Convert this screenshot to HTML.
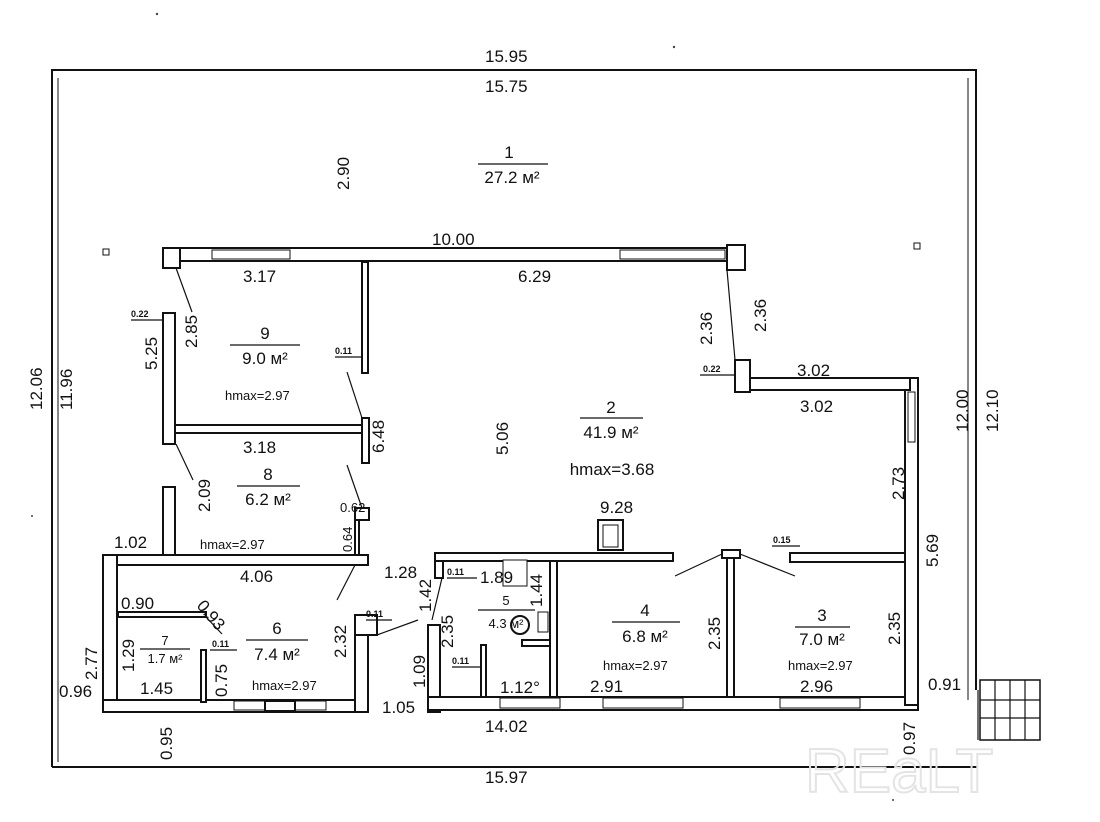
<!DOCTYPE html>
<html><head><meta charset="utf-8"><style>
body{margin:0;background:#fff}
svg text{font-family:"Liberation Sans",Arial,sans-serif;fill:#111}
</style></head><body>
<svg width="1100" height="817" viewBox="0 0 1100 817" xmlns="http://www.w3.org/2000/svg">
<g fill="none" stroke="#111" stroke-width="2">
<polyline points="52,767 52,70 976,70 976,690"/>
<line x1="52" y1="767" x2="978" y2="767"/>
<line x1="58" y1="78" x2="58" y2="762" stroke-width="1"/>
<line x1="968" y1="78" x2="968" y2="700" stroke-width="1"/>
</g>
<g fill="#fff" stroke="#111" stroke-width="2">
<rect x="163" y="248" width="580" height="13"/>
<rect x="163" y="248" width="17" height="20"/>
<rect x="727" y="245" width="18" height="25"/>
<rect x="212" y="250" width="78" height="9" stroke-width="1"/>
<rect x="620" y="250" width="105" height="9" stroke-width="1"/>
<rect x="163" y="313" width="12" height="131"/>
<rect x="175" y="425" width="187" height="8"/>
<rect x="362" y="262" width="6" height="111"/>
<rect x="362" y="418" width="7" height="45"/>
<polyline points="163,555 163,487 175,487 175,555"/>
<rect x="103" y="555" width="265" height="10"/>
<rect x="355" y="508" width="14" height="12"/>
<rect x="355" y="520" width="4" height="35"/>
<rect x="103" y="555" width="14" height="157"/>
<rect x="103" y="700" width="265" height="12"/>
<rect x="234" y="701" width="92" height="9" stroke-width="1"/>
<rect x="265" y="701" width="30" height="10"/>
<rect x="355" y="615" width="13" height="97"/>
<rect x="355" y="615" width="22" height="20"/>
<rect x="118" y="612" width="88" height="5"/>
<rect x="201" y="650" width="5" height="52"/>
<rect x="428" y="625" width="12" height="87"/>
<rect x="435" y="553" width="238" height="8"/>
<rect x="435" y="561" width="8" height="17"/>
<rect x="550" y="561" width="7" height="136"/>
<rect x="481" y="645" width="5" height="52"/>
<rect x="428" y="697" width="490" height="13"/>
<rect x="500" y="698" width="60" height="10" stroke-width="1"/>
<rect x="603" y="698" width="80" height="10" stroke-width="1"/>
<rect x="780" y="698" width="80" height="10" stroke-width="1"/>
<rect x="727" y="558" width="7" height="139"/>
<rect x="722" y="550" width="18" height="8"/>
<rect x="790" y="553" width="120" height="9"/>
<rect x="905" y="378" width="13" height="327"/>
<rect x="908" y="392" width="7" height="50" stroke-width="1"/>
<rect x="735" y="378" width="175" height="12"/>
<rect x="735" y="360" width="15" height="32"/>
<rect x="598" y="520" width="25" height="30"/>
<rect x="603" y="525" width="15" height="22" stroke-width="1"/>
<rect x="503" y="560" width="24" height="26" stroke-width="1"/>
<rect x="522" y="640" width="28" height="6"/>
<circle cx="520" cy="625" r="9"/>
<rect x="538" y="612" width="10" height="20" stroke-width="1"/>
<rect x="980" y="680" width="60" height="60" stroke-width="1.5"/>
</g>
<g stroke="#111" stroke-width="1.2" fill="none">
<line x1="995" y1="680" x2="995" y2="740"/><line x1="1010" y1="680" x2="1010" y2="740"/><line x1="1025" y1="680" x2="1025" y2="740"/>
<line x1="980" y1="718" x2="1040" y2="718"/><line x1="980" y1="700" x2="1040" y2="700"/>
<line x1="978" y1="690" x2="978" y2="740"/>
<line x1="176" y1="268" x2="192" y2="312"/>
<line x1="176" y1="444" x2="193" y2="480"/>
<line x1="347" y1="372" x2="362" y2="418"/>
<line x1="347" y1="465" x2="362" y2="508"/>
<line x1="355" y1="565" x2="337" y2="600"/>
<line x1="377" y1="635" x2="418" y2="620"/>
<line x1="442" y1="578" x2="432" y2="620"/>
<line x1="206" y1="617" x2="222" y2="634"/>
<line x1="722" y1="554" x2="675" y2="576"/>
<line x1="740" y1="554" x2="795" y2="576"/>
<line x1="727" y1="270" x2="735" y2="360"/>
<line x1="131" y1="320" x2="163" y2="320"/>
<line x1="700" y1="375" x2="735" y2="375"/>
<line x1="335" y1="357" x2="362" y2="357"/>
<line x1="772" y1="546" x2="800" y2="546"/>
<line x1="366" y1="620" x2="392" y2="620"/>
<line x1="210" y1="650" x2="237" y2="650"/>
<line x1="447" y1="578" x2="477" y2="578"/>
<line x1="452" y1="667" x2="480" y2="667"/>
<line x1="478" y1="164" x2="548" y2="164"/>
<line x1="230" y1="345" x2="300" y2="345"/>
<line x1="237" y1="486" x2="300" y2="486"/>
<line x1="246" y1="640" x2="308" y2="640"/>
<line x1="140" y1="649" x2="190" y2="649"/>
<line x1="478" y1="610" x2="535" y2="610"/>
<line x1="580" y1="418" x2="643" y2="418"/>
<line x1="612" y1="622" x2="680" y2="622"/>
<line x1="795" y1="627" x2="850" y2="627"/>
</g>
<rect x="103" y="249" width="6" height="6" fill="none" stroke="#111"/>
<rect x="914" y="243" width="6" height="6" fill="none" stroke="#111"/>
<g fill="#444"><circle cx="157" cy="14" r="1.2"/><circle cx="674" cy="47" r="1.2"/><circle cx="32" cy="516" r="1"/><circle cx="893" cy="800" r="1"/></g>
<g font-size="17">
<text x="485" y="62">15.95</text>
<text x="485" y="92">15.75</text>
<text x="485" y="783">15.97</text>
<text x="432" y="245">10.00</text>
<text x="243" y="282">3.17</text>
<text x="518" y="282">6.29</text>
<text x="243" y="453">3.18</text>
<text x="240" y="582">4.06</text>
<text x="797" y="376">3.02</text>
<text x="800" y="412">3.02</text>
<text x="600" y="513">9.28</text>
<text x="384" y="578">1.28</text>
<text x="480" y="583">1.89</text>
<text x="114" y="548">1.02</text>
<text x="121" y="609">0.90</text>
<text x="140" y="694">1.45</text>
<text x="59" y="697">0.96</text>
<text x="382" y="713">1.05</text>
<text x="485" y="732">14.02</text>
<text x="590" y="692">2.91</text>
<text x="800" y="692">2.96</text>
<text x="928" y="690">0.91</text>
<text x="500" y="693">1.12°</text>
<text x="509" y="158" text-anchor="middle">1</text>
<text x="512" y="183" text-anchor="middle">27.2 м²</text>
<text x="265" y="339" text-anchor="middle">9</text>
<text x="265" y="364" text-anchor="middle">9.0 м²</text>
<text x="268" y="480" text-anchor="middle">8</text>
<text x="268" y="505" text-anchor="middle">6.2 м²</text>
<text x="277" y="634" text-anchor="middle">6</text>
<text x="277" y="660" text-anchor="middle">7.4 м²</text>
<text x="611" y="413" text-anchor="middle">2</text>
<text x="611" y="438" text-anchor="middle">41.9 м²</text>
<text x="645" y="616" text-anchor="middle">4</text>
<text x="645" y="642" text-anchor="middle">6.8 м²</text>
<text x="822" y="621" text-anchor="middle">3</text>
<text x="822" y="645" text-anchor="middle">7.0 м²</text>
<text x="612" y="475" text-anchor="middle">hmax=3.68</text>
</g>
<g font-size="13">
<text x="225" y="400">hmax=2.97</text>
<text x="200" y="549">hmax=2.97</text>
<text x="252" y="690">hmax=2.97</text>
<text x="603" y="670">hmax=2.97</text>
<text x="788" y="670">hmax=2.97</text>
<text x="165" y="645" text-anchor="middle">7</text>
<text x="165" y="663" text-anchor="middle">1.7 м²</text>
<text x="506" y="605" text-anchor="middle">5</text>
<text x="506" y="628" text-anchor="middle">4.3 м²</text>
</g>
<g font-size="9" font-weight="bold">
<text x="131" y="317">0.22</text><text x="335" y="354">0.11</text><text x="703" y="372">0.22</text>
<text x="773" y="543">0.15</text><text x="366" y="617">0.11</text><text x="212" y="647">0.11</text>
<text x="447" y="575">0.11</text><text x="452" y="664">0.11</text>
</g>
<g font-size="17">
<text transform="translate(349,190) rotate(-90)">2.90</text>
<text transform="translate(42,410) rotate(-90)">12.06</text>
<text transform="translate(72,410) rotate(-90)">11.96</text>
<text transform="translate(197,348) rotate(-90)">2.85</text>
<text transform="translate(157,370) rotate(-90)">5.25</text>
<text transform="translate(210,512) rotate(-90)">2.09</text>
<text transform="translate(384,453) rotate(-90)">6.48</text>
<text transform="translate(508,455) rotate(-90)">5.06</text>
<text transform="translate(712,345) rotate(-90)">2.36</text>
<text transform="translate(766,332) rotate(-90)">2.36</text>
<text transform="translate(968,432) rotate(-90)">12.00</text>
<text transform="translate(998,432) rotate(-90)">12.10</text>
<text transform="translate(904,500) rotate(-90)">2.73</text>
<text transform="translate(938,567) rotate(-90)">5.69</text>
<text transform="translate(900,645) rotate(-90)">2.35</text>
<text transform="translate(720,650) rotate(-90)">2.35</text>
<text transform="translate(453,648) rotate(-90)">2.35</text>
<text transform="translate(542,607) rotate(-90)">1.44</text>
<text transform="translate(431,612) rotate(-90)">1.42</text>
<text transform="translate(425,688) rotate(-90)">1.09</text>
<text transform="translate(346,658) rotate(-90)">2.32</text>
<text transform="translate(97,680) rotate(-90)">2.77</text>
<text transform="translate(134,672) rotate(-90)">1.29</text>
<text transform="translate(227,697) rotate(-90)">0.75</text>
<text transform="translate(172,760) rotate(-90)">0.95</text>
<text transform="translate(915,755) rotate(-90)">0.97</text>
<text transform="translate(196,606) rotate(50)">0.93</text>
</g>
<g font-size="13">
<text x="340" y="512">0.62</text>
<text transform="translate(352,552) rotate(-90)">0.64</text>
</g>
<text x="805" y="792" font-size="62" style="fill:none;stroke:#e4e4e4;stroke-width:2">REaLT</text>
</svg>
</body></html>
